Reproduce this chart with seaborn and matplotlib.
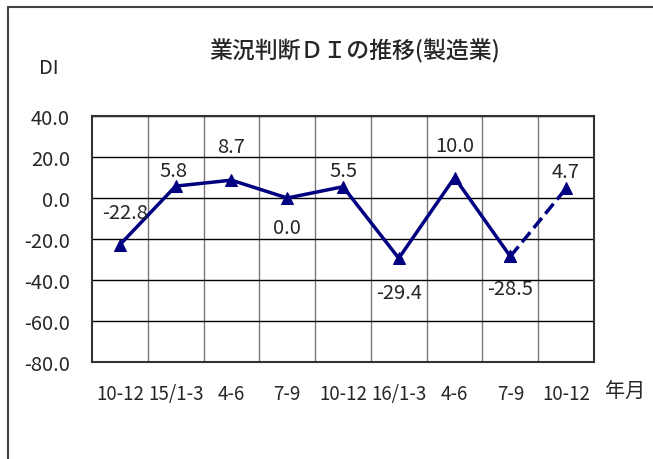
"""
業況判断DI (manufacturing) line chart, recreated with seaborn
"""
import matplotlib
matplotlib.use("Agg")
import matplotlib.pyplot as plt
from matplotlib.patches import Rectangle
import pandas as pd
import seaborn as sns

# Data
periods = ["10-12", "15/1-3", "4-6", "7-9", "10-12", "16/1-3", "4-6", "7-9", "10-12"]
di_values = [-22.8, 5.8, 8.7, 0.0, 5.5, -29.4, 10.0, -28.5, 4.7]
n_actual = 8  # last point is a forecast -> dashed segment
y_ticks = [40, 20, 0, -20, -40, -60, -80]

# label offsets in pixels (dx, dy) relative to each point
label_offsets = [(5, 32), (-2, 16), (0, 34), (0, -30), (0, 16), (0, -34), (0, 32), (0, -32), (0, 17)]

NAVY = "#000080"
FONTS = ["Noto Sans CJK JP", "DejaVu Sans"]

sns.set_style("white")
plt.rcParams["font.family"] = FONTS

df = pd.DataFrame({"pos": range(len(periods)), "period": periods, "DI": di_values})

fig = plt.figure(figsize=(6.53, 4.6), dpi=100)
ax = fig.add_axes([92 / 653, 97 / 460, 502 / 653, 246 / 460])

# Solid line for actual values, dashed for the forecast
sns.lineplot(data=df.iloc[:n_actual], x="pos", y="DI", color=NAVY, linewidth=2.5,
             marker="^", markersize=9, markeredgecolor=NAVY, ax=ax)
sns.lineplot(data=df.iloc[n_actual - 1:], x="pos", y="DI", color=NAVY, linewidth=2.5,
             linestyle="--", marker="^", markersize=9, markeredgecolor=NAVY, ax=ax)

# Value labels
for (x, y), (dx, dy) in zip(zip(df["pos"], df["DI"]), label_offsets):
    ax.annotate(f"{y:.1f}", (x, y), xytext=(dx, dy), textcoords="offset pixels",
                ha="center", va="center", fontsize=14.5)

ax.set_xlim(-0.5, len(periods) - 0.5)
ax.set_ylim(-80, 40)
ax.set_yticks(y_ticks)
ax.set_yticklabels([f"{t:.1f}" for t in y_ticks])
ax.set_xticks(df["pos"])
ax.set_xticklabels(periods)
ax.set_xticks([p + 0.5 for p in range(len(periods) - 1)], minor=True)
ax.tick_params(axis="both", which="both", length=0)
ax.tick_params(axis="y", pad=16, labelsize=14.5)
ax.tick_params(axis="x", pad=15, labelsize=13.5)
ax.set_xlabel("")
ax.set_ylabel("")

ax.grid(axis="y", which="major", color="black", linewidth=1.0)
ax.grid(axis="x", which="minor", color="#777777", linewidth=1.0)
ax.grid(axis="x", which="major", visible=False)
for spine in ax.spines.values():
    spine.set_color("#333333")
    spine.set_linewidth(1.5)

# Title and axis captions
fig.text(355 / 653, 1 - 51 / 460, "業況判断ＤＩの推移(製造業)", ha="center", va="center",
         fontsize=16.5, fontweight="medium", family=FONTS)
fig.text(49 / 653, 1 - 68 / 460, "DI", ha="center", va="center", fontsize=14.5)
fig.text(625 / 653, 1 - 392 / 460, "年月", ha="center", va="center", fontsize=14.5,
         family=FONTS)

# Outer frame (only left and top edges show in the crop)
fig.patches.append(Rectangle((8 / 653, -0.1), 1.2, 1 - 8 / 460 + 0.1, transform=fig.transFigure,
                             fill=False, edgecolor="#444444", linewidth=1.5))

fig.savefig("out.png", dpi=100)
